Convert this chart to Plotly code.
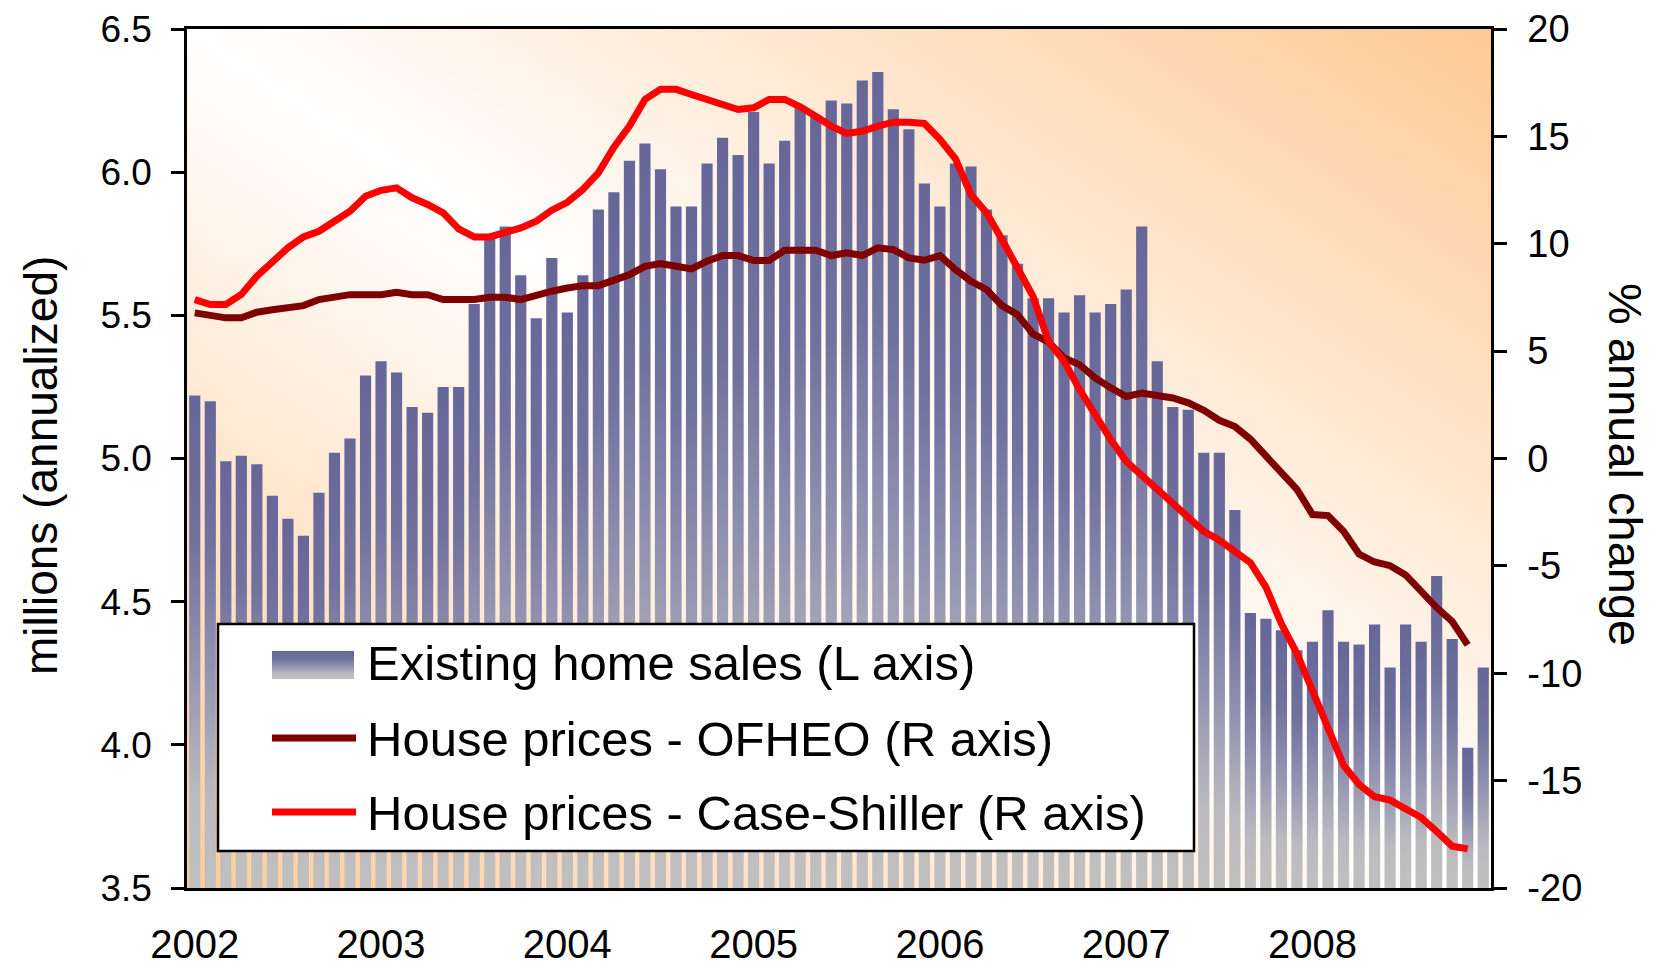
import base64
import plotly.graph_objects as go
from plotly.colors import sample_colorscale

# Monthly data, Jan 2002 - Dec 2008
years = ['2002', '2003', '2004', '2005', '2006', '2007', '2008']

# existing home sales, millions (annualized) - left axis
sales = [
    5.22, 5.20, 4.99, 5.01, 4.98, 4.87, 4.79, 4.73, 4.88, 5.02, 5.07, 5.29,
    5.34, 5.30, 5.18, 5.16, 5.25, 5.25, 5.54, 5.77, 5.81, 5.64, 5.49, 5.70,
    5.51, 5.64, 5.87, 5.93, 6.04, 6.10, 6.01, 5.88, 5.88, 6.03, 6.12, 6.06,
    6.21, 6.03, 6.11, 6.23, 6.20, 6.25, 6.24, 6.32, 6.35, 6.22, 6.15, 5.96,
    5.88, 6.03, 6.02, 5.87, 5.78, 5.68, 5.56, 5.56, 5.51, 5.57, 5.51, 5.54,
    5.59, 5.81, 5.34, 5.18, 5.17, 5.02, 5.02, 4.82, 4.46, 4.44, 4.40, 4.33,
    4.36, 4.47, 4.36, 4.35, 4.42, 4.27, 4.42, 4.36, 4.59, 4.37, 3.99, 4.27,
]

# house prices, % annual change - right axis (Jan 2002 - Nov 2008)
ofheo = [
    6.78, 6.65, 6.55, 6.55, 6.81, 6.93, 7.01, 7.12, 7.40, 7.53, 7.63, 7.63,
    7.63, 7.74, 7.63, 7.63, 7.40, 7.40, 7.40, 7.51, 7.51, 7.40, 7.63, 7.79,
    7.94, 8.05, 8.05, 8.30, 8.56, 8.95, 9.08, 8.95, 8.83, 9.19, 9.45, 9.45,
    9.22, 9.22, 9.70, 9.70, 9.70, 9.45, 9.58, 9.45, 9.81, 9.73, 9.34, 9.23,
    9.45, 8.80, 8.25, 7.87, 7.12, 6.70, 5.80, 5.42, 4.68, 4.37, 3.75, 3.29,
    2.89, 3.05, 2.93, 2.82, 2.59, 2.24, 1.78, 1.49, 0.90, 0.10, -0.65, -1.44,
    -2.61, -2.66, -3.39, -4.45, -4.82, -4.99, -5.42, -6.19, -6.94, -7.59, -8.68,
]
case_shiller = [
    7.40, 7.17, 7.17, 7.64, 8.49, 9.11, 9.81, 10.32, 10.58, 11.05, 11.51, 12.21,
    12.49, 12.60, 12.14, 11.83, 11.44, 10.69, 10.32, 10.32, 10.51, 10.74, 11.05, 11.56,
    11.93, 12.53, 13.30, 14.50, 15.48, 16.72, 17.19, 17.19, 16.95, 16.72, 16.49, 16.25,
    16.33, 16.72, 16.72, 16.38, 15.94, 15.48, 15.14, 15.24, 15.48, 15.66, 15.66, 15.60,
    14.86, 13.96, 12.29, 11.44, 10.20, 8.95, 7.55, 5.45, 4.53, 3.21, 2.04, 0.88,
    -0.13, -0.79, -1.36, -2.01, -2.74, -3.39, -3.80, -4.29, -4.85, -5.99, -7.70, -9.08,
    -10.87, -12.66, -14.28, -15.18, -15.75, -15.91, -16.32, -16.72, -17.37, -18.05, -18.18,
]

right_ticks = [-20, -15, -10, -5, 0, 5, 10, 15, 20]
legend_labels = ['Existing home sales (L axis)',
                 'House prices - OFHEO (R axis)',
                 'House prices - Case-Shiller (R axis)']

FONT = 'Liberation Sans, Arial, sans-serif'
# the page body adds an 8px margin, so the figure is 8px smaller than the window
PAGE_OFF = 8
W, H = 1656 - PAGE_OFF, 967 - PAGE_OFF
# plot area in window pixels
PLOT_L, PLOT_R, PLOT_T, PLOT_B = 187, 1491, 29, 888
BASE = 3.5
HW = 0.36  # half bar width, in months

bar_scale = [[0, '#C0C0C0'], [0.18, '#BBBBBF'], [0.45, '#9393B1'],
             [0.7, '#72729F'], [1, '#666699']]


def px(x):
    return (x - PLOT_L) / (PLOT_R - PLOT_L)


def py(y):
    return (PLOT_B - y) / (PLOT_B - PLOT_T)


fig = go.Figure()

# bars as filled boxes so each one can carry its own vertical gradient
for i, v in enumerate(sales):
    fig.add_trace(go.Scatter(
        x=[i - HW, i - HW, i + HW, i + HW, i - HW],
        y=[BASE, v, v, BASE, BASE],
        mode='lines', line=dict(width=0), fill='toself',
        fillgradient=dict(type='vertical', colorscale=bar_scale, start=BASE, stop=v),
        hoverinfo='skip', showlegend=False))

months = list(range(len(ofheo)))
fig.add_trace(go.Scatter(x=months, y=ofheo, yaxis='y2', mode='lines',
                         line=dict(color='#800000', width=7), showlegend=False,
                         name=legend_labels[1]))
fig.add_trace(go.Scatter(x=months, y=case_shiller, yaxis='y2', mode='lines',
                         line=dict(color='#FF0000', width=7), showlegend=False,
                         name=legend_labels[2]))

# plot-area background: diagonal orange / white / orange gradient
bg_svg = ('<svg xmlns="http://www.w3.org/2000/svg" width="100" height="100" '
          'viewBox="0 0 100 100" preserveAspectRatio="none"><defs>'
          '<linearGradient id="g" x1="0" y1="1" x2="1" y2="0">'
          '<stop offset="0" stop-color="#FFCC99"/><stop offset="0.5" stop-color="#FFFFFF"/>'
          '<stop offset="1" stop-color="#FDC994"/></linearGradient></defs>'
          '<rect width="100" height="100" fill="url(#g)"/></svg>')
bg_src = 'data:image/svg+xml;base64,' + base64.b64encode(bg_svg.encode()).decode()

shapes = []
# legend box
shapes.append(dict(type='rect', xref='paper', yref='paper', layer='above',
                   x0=px(218), x1=px(1194), y0=py(851), y1=py(624),
                   fillcolor='white', line=dict(color='black', width=2.5)))
# gradient swatch for the bars
n_strips = 28
sw_top, sw_bot = 651, 679
strip_cols = sample_colorscale(bar_scale, [(k + 0.5) / n_strips for k in range(n_strips)])
for k in range(n_strips):
    yb = sw_bot - (sw_bot - sw_top) * k / n_strips
    yt = sw_bot - (sw_bot - sw_top) * (k + 1.2) / n_strips
    shapes.append(dict(type='rect', xref='paper', yref='paper', layer='above',
                       x0=px(272), x1=px(354), y0=py(yb), y1=py(max(yt, sw_top)),
                       fillcolor=strip_cols[k], line=dict(width=0)))
for yy, col in [(738, '#800000'), (812, '#FF0000')]:
    shapes.append(dict(type='line', xref='paper', yref='paper', layer='above',
                       x0=px(272), x1=px(356), y0=py(yy), y1=py(yy),
                       line=dict(color=col, width=7)))

annotations = []
for lab, yy in zip(legend_labels, [663, 739, 813]):
    annotations.append(dict(text=lab, xref='paper', yref='paper', x=px(365), y=py(yy),
                            xanchor='left', yanchor='middle', showarrow=False,
                            font=dict(family=FONT, size=49, color='black')))
annotations.append(dict(text='millions (annualized)', xref='paper', yref='paper',
                        x=px(41), y=py(466), textangle=-90, showarrow=False,
                        xanchor='center', yanchor='middle',
                        font=dict(family=FONT, size=46, color='black')))
annotations.append(dict(text='% annual change', xref='paper', yref='paper',
                        x=px(1626), y=py(465), textangle=90, showarrow=False,
                        xanchor='center', yanchor='middle',
                        font=dict(family=FONT, size=47, color='black')))

fig.update_layout(
    width=W, height=H,
    margin=dict(l=PLOT_L - PAGE_OFF, r=W - (PLOT_R - PAGE_OFF),
                t=PLOT_T - PAGE_OFF, b=H - (PLOT_B - PAGE_OFF)),
    paper_bgcolor='white', plot_bgcolor='rgba(0,0,0,0)',
    font=dict(family=FONT, color='black'),
    showlegend=False,
    images=[dict(source=bg_src, xref='paper', yref='paper', x=0, y=1, sizex=1, sizey=1,
                 xanchor='left', yanchor='top', sizing='stretch', layer='below')],
    shapes=shapes,
    annotations=annotations,
    xaxis=dict(range=[-0.5, len(sales) - 0.5], showgrid=False, zeroline=False,
               showline=True, linecolor='black', linewidth=2.5, mirror=True,
               ticks='', tickvals=[12 * k for k in range(len(years))], ticktext=years,
               tickfont=dict(size=40), ticklabelstandoff=19, automargin=False,
               ticklabeloverflow='allow'),
    yaxis=dict(range=[3.5, 6.5], dtick=0.5, tick0=3.5, tickformat='.1f',
               showgrid=False, zeroline=False, showline=True, linecolor='black',
               linewidth=2.5, ticks='outside', ticklen=13, tickwidth=2.5,
               tickcolor='black', tickfont=dict(size=37), ticklabelstandoff=12,
               automargin=False, ticklabeloverflow='allow'),
    yaxis2=dict(range=[-20, 20], overlaying='y', side='right',
                tickvals=right_ticks, ticktext=[str(t) for t in right_ticks],
                showgrid=False, zeroline=False, showline=True, linecolor='black',
                linewidth=2.5, ticks='outside', ticklen=13, tickwidth=2.5,
                tickcolor='black', tickfont=dict(size=38), ticklabelstandoff=13,
                automargin=False, ticklabeloverflow='allow'),
)

fig.write_html('out.html')
